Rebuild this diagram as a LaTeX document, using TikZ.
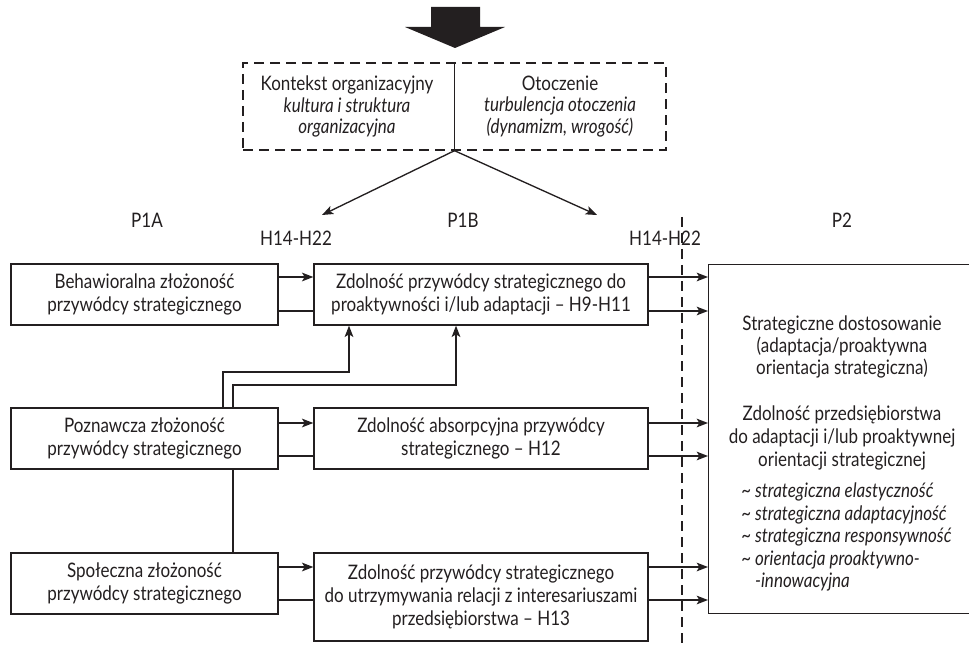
\documentclass[tikz,border=0pt]{standalone}
\usepackage{fontspec}
\setmainfont{Lato}[FakeStretch=0.85]
\usetikzlibrary{arrows.meta,backgrounds}
\definecolor{ink}{HTML}{231F20}
\newcommand\pxu{0.75pt}
\begin{document}
\begin{tikzpicture}[x=0.75pt,y=-0.75pt,
  every node/.style={text=ink, font=\fontsize{15}{17}\selectfont},
  box/.style={draw=ink, line width=1pt, fill=white, align=center, inner sep=0pt,
    minimum height=61*\pxu},
  lbox/.style={box, minimum width=267*\pxu},
  rbox/.style={box, minimum width=334*\pxu},
  lbl/.style={inner sep=0pt},
  arr/.style={draw=ink, line width=1pt, -{Stealth[length=8.5pt,width=6.5pt,inset=2pt]}},
  link/.style={draw=ink, line width=1pt},
  sep/.style={draw=ink, line width=1pt, dash pattern=on 7.5pt off 4.5pt}
]
\useasboundingbox (0,0) rectangle (969,648);

% heavy arrow at the top
\fill[ink] (431,7) -- (480,7) -- (480,27) -- (505,27) -- (455,48) -- (405,27) -- (431,27) -- cycle;

% context box
\node[draw=ink, line width=1pt, dash pattern=on 7.5pt off 4.5pt, minimum width=423*\pxu,
  minimum height=87*\pxu, inner sep=0pt] (ctx) at (454.5,106.5) {};
\draw[link] (ctx.north) -- (ctx.south);
\node[lbl, align=center, font=\fontsize{15}{16.2}\selectfont] (org) at (347,106.5)
  {Kontekst organizacyjny\\\itshape kultura i struktura\\\itshape organizacyjna};
\node[lbl, align=center, font=\fontsize{15}{16.2}\selectfont] (env) at (560,106.5)
  {Otoczenie\\\itshape turbulencja otoczenia\\\itshape (dynamizm, wrogość)};

\coordinate (tipL) at (322,215);
\coordinate (tipR) at (597,215);
\draw[arr] (ctx.south) -- (tipL);
\draw[arr] (ctx.south) -- (tipR);

% column labels
\node[lbl] (p1a) at (147,220) {P1A};
\node[lbl] (p1b) at (463,220) {P1B};
\node[lbl] (p2l) at (842,220) {P2};
\node[lbl] (hL) at (296,238) {H14-H22};
\node[lbl] (hR) at (665,238) {H14-H22};

% dashed separator
\coordinate (sepTop) at (682,217);
\coordinate (sepBot) at (682,650);
\draw[sep] (sepTop) -- (sepBot);

% boxes
\node[lbox] (beh) at (144.5,294.5) {Behawioralna złożoność\\przywódcy strategicznego};
\node[rbox] (pro) at (481,294.5) {Zdolność przywódcy strategicznego do\\proaktywności i/lub adaptacji – H9-H11};
\node[lbox] (poz) at (144.5,438.5) {Poznawcza złożoność\\przywódcy strategicznego};
\node[rbox] (abs) at (481,438.5) {Zdolność absorpcyjna przywódcy\\strategicznego – H12};
\node[lbox] (spo) at (144.5,583.5) {Społeczna złożoność\\przywódcy strategicznego};
\node[rbox, minimum height=88*\pxu] (rel) at (481,597)
  {Zdolność przywódcy strategicznego\\do utrzymywania relacji z interesariuszami\\przedsiębiorstwa – H13};

\node[draw=ink, line width=1pt, inner sep=0pt, anchor=north west,
  minimum width=268*\pxu, minimum height=349*\pxu] (fit) at (708,264) {};
\node[lbl, align=center, font=\fontsize{15}{16.6}\selectfont] (fitA) at (842,347)
  {Strategiczne dostosowanie\\(adaptacja/proaktywna\\orientacja strategiczna)};
\node[lbl, align=center, font=\fontsize{15}{17.2}\selectfont] (fitB) at (842,438)
  {Zdolność przedsiębiorstwa\\do adaptacji i/lub proaktywnej\\orientacji strategicznej};
\node[lbl, align=left, anchor=west, font=\fontsize{15}{16.9}\selectfont\itshape] (fitC) at (741,537)
  {\textasciitilde{} strategiczna elastyczność\\
   \textasciitilde{} strategiczna adaptacyjność\\
   \textasciitilde{} strategiczna responsywność\\
   \textasciitilde{} orientacja proaktywno-\\
   \phantom{\textasciitilde{} }-innowacyjna};

% left to middle column
\draw[arr]  (beh.east |- 0,277) -- (pro.west |- 0,277);
\draw[link] (beh.east |- 0,311) -- (pro.west |- 0,311);
\draw[arr]  (poz.east |- 0,423) -- (abs.west |- 0,423);
\draw[link] (poz.east |- 0,456) -- (abs.west |- 0,456);
\draw[arr]  (spo.east |- 0,567) -- (rel.west |- 0,567);
\draw[link] (spo.east |- 0,600) -- (rel.west |- 0,600);

% middle column to the outcome box
\foreach \src/\yy in {pro/277, pro/311, abs/423, abs/456, rel/567, rel/600}
  \draw[arr] (\src.east |- 0,\yy) -- (fit.west |- 0,\yy);

% upward links into the proactivity box
\draw[arr] (poz.north -| 223,0) -- (223,372) -- (349,372) -- (pro.south -| 349,0);
\begin{scope}[on background layer]
  \draw[arr] (spo.north -| 233,0) -- (233,385) -- (456,385) -- (pro.south -| 456,0);
\end{scope}
\end{tikzpicture}
\end{document}
